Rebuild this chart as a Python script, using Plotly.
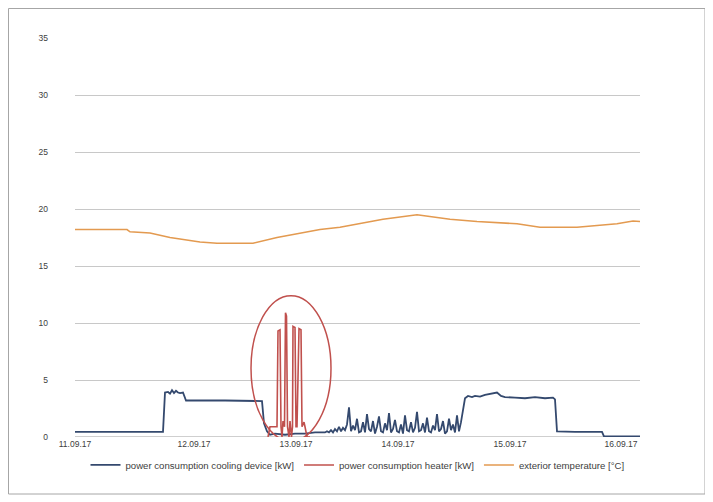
import plotly.graph_objects as go

# ---------------- data ----------------
tick_hours = [0, 23.8, 44.2, 64.6, 87.0, 109.2]
tick_labels = ["11.09.17", "12.09.17", "13.09.17", "14.09.17", "15.09.17", "16.09.17"]

cool_h = [0, 17.6, 18.0, 18.6, 19.0, 19.4, 19.8, 20.2, 20.6, 21.0, 21.6, 22.2, 30.0, 37.4,
          37.8, 38.4, 39.0, 40.0, 42.0, 44.0, 46.0, 48.0,
          50.0, 50.4, 50.8, 51.2, 51.6, 52.0, 52.4, 52.8, 53.2, 53.6, 54.0, 54.4, 54.8, 55.2,
          55.6, 56.0, 56.4, 56.8, 57.2, 57.6, 58.0, 58.4, 58.8, 59.2, 59.6, 60.0, 60.4, 60.8,
          61.2, 61.6, 62.0, 62.4, 62.8, 63.2, 63.6, 64.0, 64.4, 64.8, 65.2, 65.6, 66.0, 66.4,
          66.8, 67.2, 67.6, 68.0, 68.4, 68.8, 69.2, 69.6, 70.0, 70.4, 70.8, 71.2, 71.6, 72.0,
          72.4, 72.8, 73.2, 73.6, 74.0, 74.4, 74.8, 75.2, 75.6, 76.0, 76.4, 76.8, 77.2, 77.6,
          78.0, 78.6, 79.4, 80.0, 81.0, 82.0, 83.0, 84.4, 85.2, 86.0, 88.0, 90.0, 92.0, 94.0,
          95.6, 96.0, 96.4, 100.0, 105.4, 105.8, 113.0]
cool_kw = [0.45, 0.45, 3.9, 3.95, 3.8, 4.1, 3.85, 4.05, 3.9, 3.85, 3.9, 3.2, 3.2, 3.15,
           1.2, 0.5, 0.2, 0.3, 0.2, 0.3, 0.3, 0.4,
           0.4, 0.5, 0.4, 0.6, 0.4, 0.7, 0.5, 0.9, 0.5, 0.8, 0.6, 1.1, 2.6, 0.5,
           1.0, 0.6, 1.6, 0.4, 0.5, 1.3, 0.4, 2.0, 0.7, 0.5, 1.4, 0.3, 0.9, 1.8,
           0.5, 0.4, 1.2, 0.6, 2.1, 0.4, 0.7, 1.5, 0.5, 0.4, 1.1, 0.3, 1.9, 0.6,
           0.5, 1.3, 0.4, 0.8, 2.2, 0.5, 0.6, 1.2, 0.4, 1.7, 0.5, 0.4, 1.0, 0.6,
           2.0, 0.5, 0.7, 1.4, 0.3, 0.5, 1.6, 0.6, 1.1, 0.4, 1.9, 0.5, 1.3, 2.4,
           3.4, 3.6, 3.5, 3.6, 3.55, 3.7, 3.8, 3.9, 3.6, 3.5, 3.45, 3.4, 3.5, 3.4,
           3.45, 3.3, 0.5, 0.45, 0.45, 0.05, 0.05]

heat_h = [38.6, 39.0, 40.4, 40.6, 41.0, 41.2, 41.4, 41.6, 41.9, 42.1, 42.3, 42.5, 42.8, 43.0,
          43.3, 43.5, 43.6, 44.0, 44.2, 44.4, 44.8, 45.2, 45.4, 45.8, 46.0, 46.4, 47.0]
heat_kw = [0, 0.9, 0.9, 9.3, 9.4, 0.9, 0, 1.4, 0.9, 10.9, 10.6, 0.9, 0, 1.4,
           0, 0.9, 9.7, 9.6, 0.9, 0.9, 9.5, 9.4, 0.9, 1.3, 0.9, 0, 0]

temp_h = [0, 10.4, 11.0, 15.0, 19.0, 25.0, 28.4, 35.6, 40.4, 49.0, 53.0, 61.6, 68.4, 75.0,
          80.4, 88.4, 93.0, 100.4, 108.4, 111.6, 113.0]
temp_c = [18.2, 18.2, 18.0, 17.9, 17.5, 17.1, 17.0, 17.0, 17.5, 18.2, 18.4, 19.1, 19.5, 19.1,
          18.9, 18.7, 18.4, 18.4, 18.7, 18.95, 18.9]

highlight_h = [35.2, 51.2]
highlight_kw = [-0.35, 12.4]

# ---------------- figure ----------------
fig = go.Figure()
fig.add_trace(go.Scatter(x=cool_h, y=cool_kw, mode="lines",
                         name="power consumption cooling device [kW]",
                         line=dict(color="#34496e", width=1.8)))
fig.add_trace(go.Scatter(x=heat_h, y=heat_kw, mode="lines",
                         name="power consumption heater [kW]",
                         line=dict(color="#c0504d", width=1.6)))
fig.add_trace(go.Scatter(x=temp_h, y=temp_c, mode="lines",
                         name="exterior temperature [°C]",
                         line=dict(color="#e39a50", width=1.6)))

fig.add_shape(type="circle", xref="x", yref="y",
              x0=highlight_h[0], x1=highlight_h[1], y0=highlight_kw[0], y1=highlight_kw[1],
              line=dict(color="#c0504d", width=1.5))

# page has an 8px body margin: figure is drawn at (8, 8)
FW, FH = 705, 494
L, T = 67, 30
W, H = 565, 399
R, B = FW - L - W, FH - T - H
# outer frame (page 8..705 x 8..494)
fig.add_shape(type="rect", xref="paper", yref="paper",
              x0=(0.5 - L) / W, x1=(697 - L) / W,
              y0=(T + H - 486) / H, y1=(T + H - 0.5) / H,
              line=dict(color="#a6a6a6", width=1))

fig.update_layout(
    width=FW, height=FH,
    margin=dict(l=L, r=R, t=T, b=B),
    paper_bgcolor="white", plot_bgcolor="white",
    font=dict(family="Liberation Sans, Arial, sans-serif", size=8, color="#404040"),
    showlegend=True,
    legend=dict(orientation="h", x=0.5, xanchor="center", y=-0.07, yanchor="middle",
                font=dict(size=9.6, color="#404040"), itemwidth=30,
                bgcolor="rgba(0,0,0,0)"),
    xaxis=dict(range=[0, 113], tickmode="array", tickvals=tick_hours, ticktext=tick_labels,
               showgrid=False, zeroline=False, showline=False, ticks="",
               tickfont=dict(size=8.5, color="#404040")),
    yaxis=dict(range=[0, 35], dtick=5, showgrid=True, gridcolor="#c8c8c8", gridwidth=1,
               zeroline=False, showline=False, ticks="", ticklabelstandoff=26,
               tickfont=dict(size=8.5, color="#404040")),
)
fig.add_hline(y=0, line=dict(color="#bfbfbf", width=1.5), layer="below")

fig.write_html("out.html")
